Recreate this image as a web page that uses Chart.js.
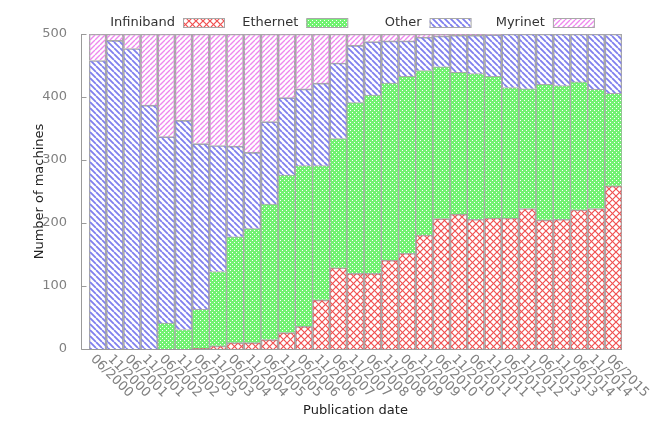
<!DOCTYPE html>
<html>
<head>
<meta charset="utf-8">
<script src="https://cdn.jsdelivr.net/npm/chart.js@4"></script>
<style>
  body { margin: 0; background: #fff; }
  canvas { display: block; }
</style>
</head>
<body>
<canvas id="chart" width="670" height="435"></canvas>
<script>
const dates = ['06/2000', '11/2000', '06/2001', '11/2001', '06/2002', '11/2002', '06/2003', '11/2003',
  '06/2004', '11/2004', '06/2005', '11/2005', '06/2006', '11/2006', '06/2007', '11/2007',
  '06/2008', '11/2008', '06/2009', '11/2009', '06/2010', '11/2010', '06/2011', '11/2011',
  '06/2012', '11/2012', '06/2013', '11/2013', '06/2014', '11/2014', '06/2015'];

const infiniband = [0, 0, 0, 0, 0, 0, 1, 5, 10, 10, 15, 26, 36, 78, 129, 120,
  120, 141, 152, 181, 207, 214, 206, 208, 208, 223, 205, 206, 221, 223, 259];
const ethernet = [0, 0, 0, 0, 41, 31, 62, 118, 168, 181, 215, 250, 255, 213, 205, 271,
  283, 281, 281, 261, 241, 225, 231, 225, 207, 190, 215, 212, 203, 189, 147];
const other = [458, 490, 477, 387, 296, 332, 263, 200, 144, 121, 131, 123, 122, 131, 120, 91,
  85, 67, 56, 53, 49, 59, 61, 66, 85, 87, 80, 82, 76, 88, 94];
const myrinet = [42, 10, 23, 113, 163, 137, 174, 177, 178, 188, 139, 101, 87, 78, 46, 18,
  12, 11, 11, 5, 3, 2, 2, 1, 0, 0, 0, 0, 0, 0, 0];

const yTicks = [0, 100, 200, 300, 400, 500];

const FONT = 'DejaVu Sans';

// small tiles used as canvas patterns
function makeTile(size, draw) {
  const c = document.createElement('canvas');
  c.width = size;
  c.height = size;
  const g = c.getContext('2d');
  draw(g, size);
  return document.getElementById('chart').getContext('2d').createPattern(c, 'repeat');
}

function diagonal(color, width, back) {
  return (g, s) => {
    g.strokeStyle = color;
    g.lineWidth = width;
    g.beginPath();
    for (let k = -1; k <= 1; k++) {
      if (back) { g.moveTo(k * s, 0); g.lineTo(k * s + s, s); }
      else { g.moveTo(k * s, s); g.lineTo(k * s + s, 0); }
    }
    g.stroke();
  };
}

const crossPattern = makeTile(7, (g, s) => {
  diagonal('#f05050', 1.2, true)(g, s);
  diagonal('#f05050', 1.2, false)(g, s);
});
const checkPattern = makeTile(4, (g, s) => {
  g.fillStyle = '#72f272';
  g.fillRect(0, 0, s, s);
  g.fillStyle = '#ffffff';
  g.fillRect(0, 0, 1, 1);
  g.fillRect(2, 2, 1, 1);
});
const bluePattern = makeTile(6, diagonal('#7f7fee', 1.8, true));
const pinkPattern = makeTile(5, diagonal('#ee88ee', 1.4, false));

const axisPlugin = {
  id: 'gnuAxes',
  afterDraw(chart) {
    const { ctx, chartArea, scales } = chart;
    const ax = chartArea.left - 8 + 0.5;
    const by = Math.round(chartArea.bottom) + 0.5;
    ctx.save();
    ctx.strokeStyle = '#9a9a9a';
    ctx.lineWidth = 1;
    ctx.beginPath();
    ctx.moveTo(ax, chartArea.top);
    ctx.lineTo(ax, by);
    ctx.lineTo(chartArea.right, by);
    yTicks.forEach(v => {
      const y = Math.round(scales.y.getPixelForValue(v)) + 0.5;
      ctx.moveTo(ax, y);
      ctx.lineTo(ax + 5, y);
    });
    ctx.stroke();

    // rotated date labels, running down to the right
    ctx.fillStyle = '#808080';
    ctx.font = '13px "' + FONT + '"';
    ctx.textAlign = 'left';
    ctx.textBaseline = 'middle';
    chart.data.labels.forEach((lab, i) => {
      const x = scales.x.getPixelForTick(i);
      ctx.save();
      ctx.translate(x - 5, chartArea.bottom + 8);
      ctx.rotate(Math.PI / 4);
      ctx.fillText(lab, 0, 0);
      ctx.restore();
    });

    // key: text first, then sample box
    ctx.textAlign = 'right';
    ctx.fillStyle = '#333333';
    chart.data.datasets.forEach((ds, i) => {
      const bx = 183 + i * 123.3;
      ctx.fillText(ds.label, bx - 8, 23);
      ctx.fillStyle = ds.backgroundColor;
      ctx.fillRect(bx, 19, 41, 9);
      ctx.strokeStyle = '#a8a8a8';
      ctx.strokeRect(bx + 0.5, 18.5, 41, 9);
      ctx.fillStyle = '#333333';
    });
    ctx.restore();
  }
};

function series(label, data, fill) {
  return {
    label: label,
    data: data,
    backgroundColor: fill,
    borderColor: '#a8a8a8',
    borderWidth: { top: 1, left: 1, right: 1, bottom: 0 },
    barPercentage: 1,
    categoryPercentage: 1
  };
}

new Chart(document.getElementById('chart'), {
  type: 'bar',
  data: {
    labels: dates,
    datasets: [
      series('Infiniband', infiniband, crossPattern),
      series('Ethernet', ethernet, checkPattern),
      series('Other', other, bluePattern),
      series('Myrinet', myrinet, pinkPattern)
    ]
  },
  options: {
    responsive: false,
    animation: false,
    layout: { padding: { top: 34, right: 48, bottom: 0, left: 0 } },
    plugins: { legend: { display: false }, tooltip: { enabled: false } },
    scales: {
      x: {
        stacked: true,
        grid: { display: false },
        border: { display: false },
        ticks: { display: false },
        title: {
          display: true, text: 'Publication date', color: '#222222',
          font: { family: FONT, size: 13 }, padding: { top: 0, bottom: 17 }
        },
        afterFit: s => { s.height = 86; }
      },
      y: {
        stacked: true,
        min: 0,
        max: 500,
        grid: { display: false },
        border: { display: false },
        ticks: { stepSize: 100, padding: 14, color: '#808080', font: { family: FONT, size: 13 } },
        title: {
          display: true, text: 'Number of machines', color: '#222222',
          font: { family: FONT, size: 13 }, padding: { top: 32, bottom: 0 }
        },
        afterFit: s => { s.width = 89; }
      }
    }
  },
  plugins: [axisPlugin]
});
</script>
</body>
</html>
